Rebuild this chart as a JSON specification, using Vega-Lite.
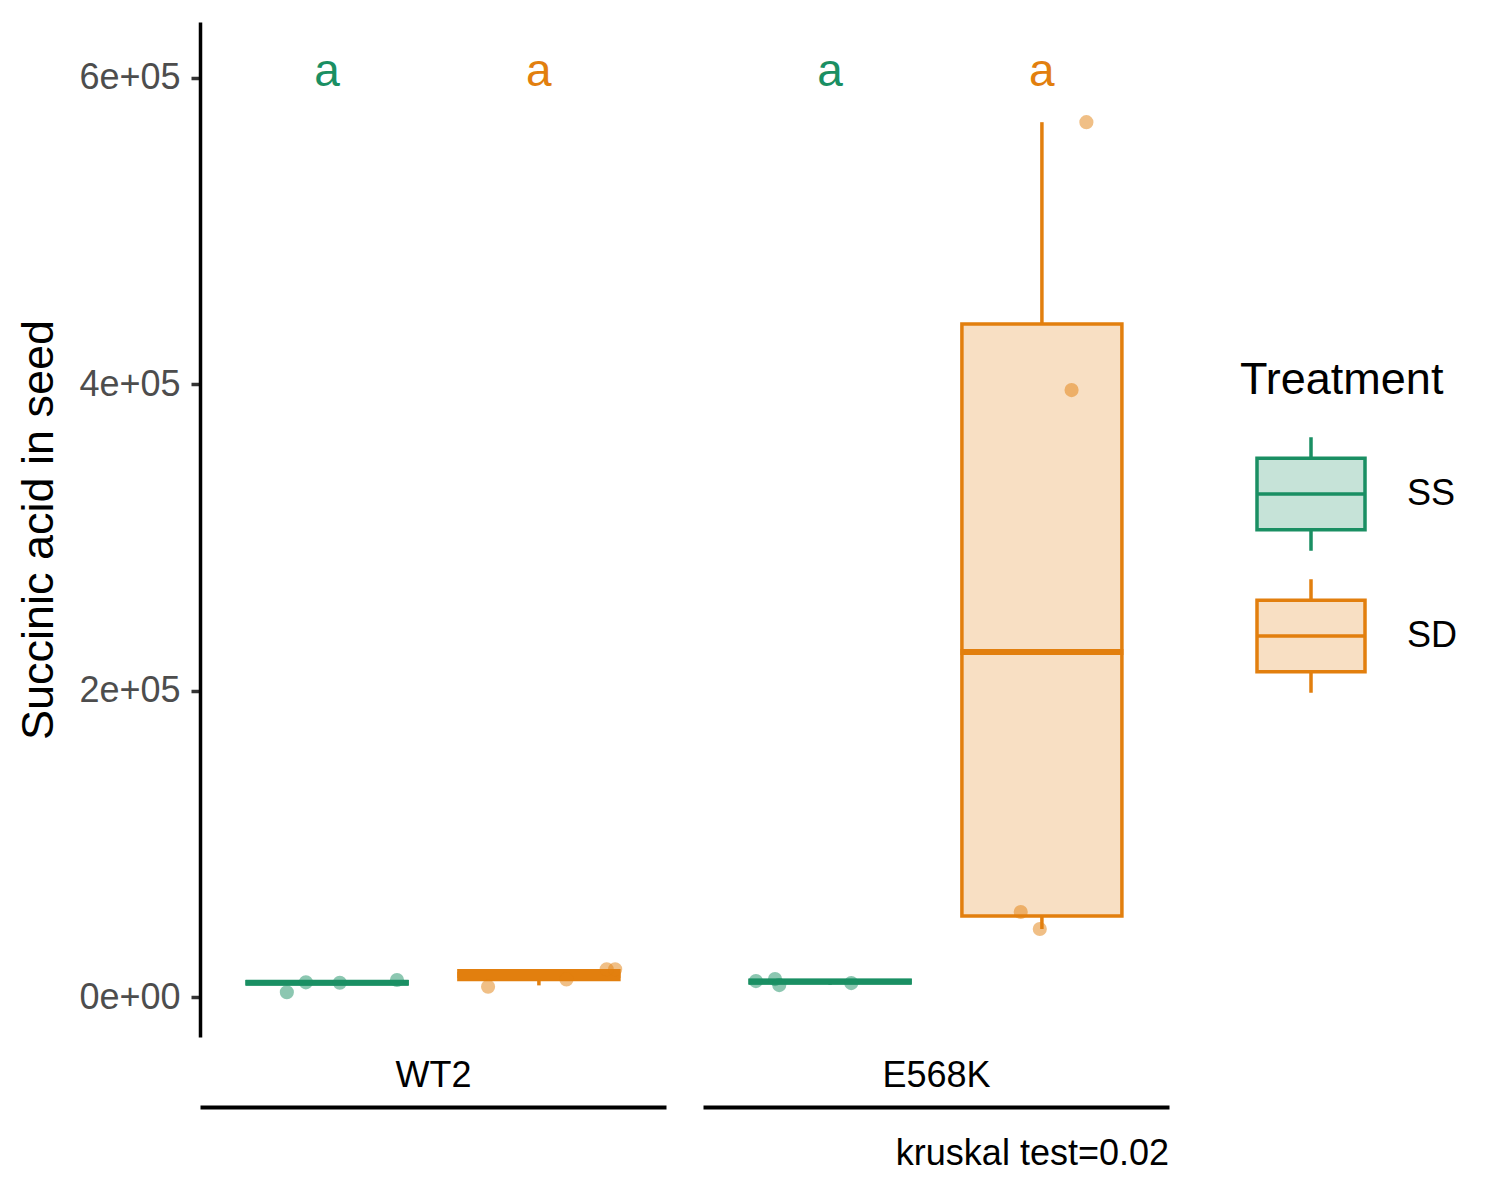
{
  "$schema": "https://vega.github.io/schema/vega-lite/v6.json",
  "description": "Succinic acid in seed by genotype and treatment, boxplots with jittered points.",
  "padding": {"left": 16, "top": 22, "right": 10, "bottom": 10},
  "datasets": {
    "boxes": [
      {"Genotype": "WT2", "Treatment": "SS", "lower": 8000, "q1": 8700, "median": 9300, "q3": 10000, "upper": 11000},
      {"Genotype": "WT2", "Treatment": "SD", "lower": 7600, "q1": 11500, "median": 14350, "q3": 17200, "upper": 17600},
      {"Genotype": "E568K", "Treatment": "SS", "lower": 8000, "q1": 9300, "median": 10000, "q3": 10900, "upper": 11500},
      {"Genotype": "E568K", "Treatment": "SD", "lower": 44400, "q1": 52900, "median": 225200, "q3": 439300, "upper": 571100}
    ],
    "points": [
      {"Genotype": "WT2", "Treatment": "SS", "jitter": -0.19, "value": 3100},
      {"Genotype": "WT2", "Treatment": "SS", "jitter": -0.10, "value": 9600},
      {"Genotype": "WT2", "Treatment": "SS", "jitter": 0.06, "value": 9300},
      {"Genotype": "WT2", "Treatment": "SS", "jitter": 0.33, "value": 11100},
      {"Genotype": "WT2", "Treatment": "SD", "jitter": -0.24, "value": 6700},
      {"Genotype": "WT2", "Treatment": "SD", "jitter": 0.13, "value": 11500},
      {"Genotype": "WT2", "Treatment": "SD", "jitter": 0.32, "value": 18100},
      {"Genotype": "WT2", "Treatment": "SD", "jitter": 0.36, "value": 18100},
      {"Genotype": "E568K", "Treatment": "SS", "jitter": -0.35, "value": 10400},
      {"Genotype": "E568K", "Treatment": "SS", "jitter": -0.26, "value": 11700},
      {"Genotype": "E568K", "Treatment": "SS", "jitter": -0.24, "value": 7800},
      {"Genotype": "E568K", "Treatment": "SS", "jitter": 0.10, "value": 9100},
      {"Genotype": "E568K", "Treatment": "SD", "jitter": 0.21, "value": 571100},
      {"Genotype": "E568K", "Treatment": "SD", "jitter": 0.14, "value": 396200},
      {"Genotype": "E568K", "Treatment": "SD", "jitter": -0.10, "value": 55500},
      {"Genotype": "E568K", "Treatment": "SD", "jitter": -0.01, "value": 44400}
    ],
    "letters": [
      {"Genotype": "WT2", "Treatment": "SS", "letter": "a"},
      {"Genotype": "WT2", "Treatment": "SD", "letter": "a"},
      {"Genotype": "E568K", "Treatment": "SS", "letter": "a"},
      {"Genotype": "E568K", "Treatment": "SD", "letter": "a"}
    ]
  },
  "hconcat": [
    {
      "width": 466,
      "height": 1015,
      "encoding": {
        "x": {"field": "Treatment", "type": "nominal", "sort": ["SS", "SD"],
              "scale": {"domain": ["SS", "SD"], "paddingInner": 0, "paddingOuter": 0.1},
              "axis": {"title": "WT2"}},
        "color": {"field": "Treatment", "type": "nominal",
                  "scale": {"domain": ["SS", "SD"], "range": ["#1A8F63", "#E27F0E"]},
                  "legend": {
                    "title": "Treatment",
                    "orient": "none", "legendX": 1040, "legendY": 336,
                    "encode": {
                      "symbols": {
                        "update": {
                          "fill": {"scale": "color", "field": "value"},
                          "fillOpacity": {"value": 0.25},
                          "stroke": {"scale": "color", "field": "value"},
                          "strokeWidth": {"value": 3.5},
                          "opacity": {"value": 1}
                        }
                      }
                    }
                  }}
      },
      "layer": [
        {
          "data": {"name": "boxes"},
          "transform": [{"filter": "datum.Genotype == 'WT2'"}],
          "mark": {"type": "rule", "strokeWidth": 3.5},
          "encoding": {
            "y": {"field": "lower", "type": "quantitative", "title": "Succinic acid in seed",
                  "scale": {"domain": [-26100, 636500], "nice": false, "zero": false},
                  "axis": {"values": [0, 200000, 400000, 600000],
                           "labelExpr": "datum.value == 0 ? '0e+00' : format(datum.value / 100000, 'd') + 'e+05'"}},
            "y2": {"field": "q1"}
          }
        },
        {
          "data": {"name": "boxes"},
          "transform": [{"filter": "datum.Genotype == 'WT2'"}],
          "mark": {"type": "rule", "strokeWidth": 3.5},
          "encoding": {
            "y": {"field": "q3", "type": "quantitative", "title": "Succinic acid in seed",
                  "scale": {"domain": [-26100, 636500], "nice": false, "zero": false}},
            "y2": {"field": "upper"}
          }
        },
        {
          "data": {"name": "boxes"},
          "transform": [{"filter": "datum.Genotype == 'WT2'"}],
          "mark": {"type": "bar", "size": 160, "fillOpacity": 0.25},
          "encoding": {
            "y": {"field": "q1", "type": "quantitative", "title": "Succinic acid in seed",
                  "scale": {"domain": [-26100, 636500], "nice": false, "zero": false}},
            "y2": {"field": "q3"}
          }
        },
        {
          "data": {"name": "boxes"},
          "transform": [{"filter": "datum.Genotype == 'WT2'"}],
          "mark": {"type": "bar", "size": 160, "filled": false, "strokeWidth": 3.5},
          "encoding": {
            "y": {"field": "q1", "type": "quantitative", "title": "Succinic acid in seed",
                  "scale": {"domain": [-26100, 636500], "nice": false, "zero": false}},
            "y2": {"field": "q3"}
          }
        },
        {
          "data": {"name": "boxes"},
          "transform": [{"filter": "datum.Genotype == 'WT2'"}],
          "mark": {"type": "tick", "orient": "horizontal", "size": 163, "thickness": 6, "opacity": 1},
          "encoding": {
            "y": {"field": "median", "type": "quantitative", "title": "Succinic acid in seed",
                  "scale": {"domain": [-26100, 636500], "nice": false, "zero": false}}
          }
        },
        {
          "data": {"name": "points"},
          "transform": [{"filter": "datum.Genotype == 'WT2'"}],
          "mark": {"type": "circle", "size": 200, "opacity": 0.5},
          "encoding": {
            "xOffset": {"field": "jitter", "type": "quantitative", "scale": {"domain": [-0.5, 0.5]}},
            "y": {"field": "value", "type": "quantitative", "title": "Succinic acid in seed",
                  "scale": {"domain": [-26100, 636500], "nice": false, "zero": false}}
          }
        },
        {
          "data": {"name": "letters"},
          "transform": [{"filter": "datum.Genotype == 'WT2'"}],
          "mark": {"type": "text", "fontSize": 46, "baseline": "alphabetic"},
          "encoding": {
            "text": {"field": "letter"},
            "y": {"datum": 595000, "type": "quantitative"}
          }
        }
      ]
    },
    {
      "width": 466,
      "height": 1015,
      "title": {"text": "kruskal test=0.02", "orient": "bottom", "anchor": "end", "frame": "group",
                "fontSize": 36, "fontWeight": "normal", "color": "black", "baseline": "top", "offset": 30},
      "encoding": {
        "x": {"field": "Treatment", "type": "nominal", "sort": ["SS", "SD"],
              "scale": {"domain": ["SS", "SD"], "paddingInner": 0, "paddingOuter": 0.1},
              "axis": {"title": "E568K"}},
        "color": {"field": "Treatment", "type": "nominal",
                  "scale": {"domain": ["SS", "SD"], "range": ["#1A8F63", "#E27F0E"]}}
      },
      "layer": [
        {
          "data": {"name": "boxes"},
          "transform": [{"filter": "datum.Genotype == 'E568K'"}],
          "mark": {"type": "rule", "strokeWidth": 3.5},
          "encoding": {
            "y": {"field": "lower", "type": "quantitative", "axis": null,
                  "scale": {"domain": [-26100, 636500], "nice": false, "zero": false}},
            "y2": {"field": "q1"}
          }
        },
        {
          "data": {"name": "boxes"},
          "transform": [{"filter": "datum.Genotype == 'E568K'"}],
          "mark": {"type": "rule", "strokeWidth": 3.5},
          "encoding": {
            "y": {"field": "q3", "type": "quantitative", "axis": null,
                  "scale": {"domain": [-26100, 636500], "nice": false, "zero": false}},
            "y2": {"field": "upper"}
          }
        },
        {
          "data": {"name": "boxes"},
          "transform": [{"filter": "datum.Genotype == 'E568K'"}],
          "mark": {"type": "bar", "size": 160, "fillOpacity": 0.25},
          "encoding": {
            "y": {"field": "q1", "type": "quantitative", "axis": null,
                  "scale": {"domain": [-26100, 636500], "nice": false, "zero": false}},
            "y2": {"field": "q3"}
          }
        },
        {
          "data": {"name": "boxes"},
          "transform": [{"filter": "datum.Genotype == 'E568K'"}],
          "mark": {"type": "bar", "size": 160, "filled": false, "strokeWidth": 3.5},
          "encoding": {
            "y": {"field": "q1", "type": "quantitative", "axis": null,
                  "scale": {"domain": [-26100, 636500], "nice": false, "zero": false}},
            "y2": {"field": "q3"}
          }
        },
        {
          "data": {"name": "boxes"},
          "transform": [{"filter": "datum.Genotype == 'E568K'"}],
          "mark": {"type": "tick", "orient": "horizontal", "size": 163, "thickness": 6, "opacity": 1},
          "encoding": {
            "y": {"field": "median", "type": "quantitative", "axis": null,
                  "scale": {"domain": [-26100, 636500], "nice": false, "zero": false}}
          }
        },
        {
          "data": {"name": "points"},
          "transform": [{"filter": "datum.Genotype == 'E568K'"}],
          "mark": {"type": "circle", "size": 200, "opacity": 0.5},
          "encoding": {
            "xOffset": {"field": "jitter", "type": "quantitative", "scale": {"domain": [-0.5, 0.5]}},
            "y": {"field": "value", "type": "quantitative", "axis": null,
                  "scale": {"domain": [-26100, 636500], "nice": false, "zero": false}}
          }
        },
        {
          "data": {"name": "letters"},
          "transform": [{"filter": "datum.Genotype == 'E568K'"}],
          "mark": {"type": "text", "fontSize": 46, "baseline": "alphabetic"},
          "encoding": {
            "text": {"field": "letter"},
            "y": {"datum": 595000, "type": "quantitative", "axis": null}
          }
        }
      ]
    }
  ],
  "spacing": 37,
  "resolve": {"scale": {"y": "shared", "color": "shared"}},
  "config": {
    "font": "Liberation Sans",
    "view": {"stroke": null},
    "axis": {"grid": false},
    "axisY": {
      "domainColor": "black", "domainWidth": 3.5,
      "tickColor": "#333333", "tickWidth": 3.5, "tickSize": 9,
      "labelFontSize": 36, "labelColor": "#4D4D4D", "labelPadding": 11,
      "titleFontSize": 45, "titleFontWeight": "normal", "titleColor": "black", "titlePadding": 17
    },
    "axisX": {
      "domainColor": "black", "domainWidth": 4, "offset": 70,
      "labels": false, "ticks": false,
      "titleFontSize": 36, "titleFontWeight": "normal", "titleColor": "black",
      "titleY": -32, "titleBaseline": "middle"
    },
    "legend": {
      "titleFontSize": 45, "titleFontWeight": "normal", "titleColor": "black", "titlePadding": 35,
      "titleLimit": 400,
      "labelFontSize": 36, "labelColor": "black", "labelOffset": 40,
      "symbolType": "M-1,-0.66H1V0.66H-1Z M-1,0H1 M0,-0.66V-1.05 M0,0.66V1.05",
      "symbolSize": 11664, "symbolOffset": 15, "rowPadding": 14, "symbolStrokeWidth": 3.5
    }
  }
}
